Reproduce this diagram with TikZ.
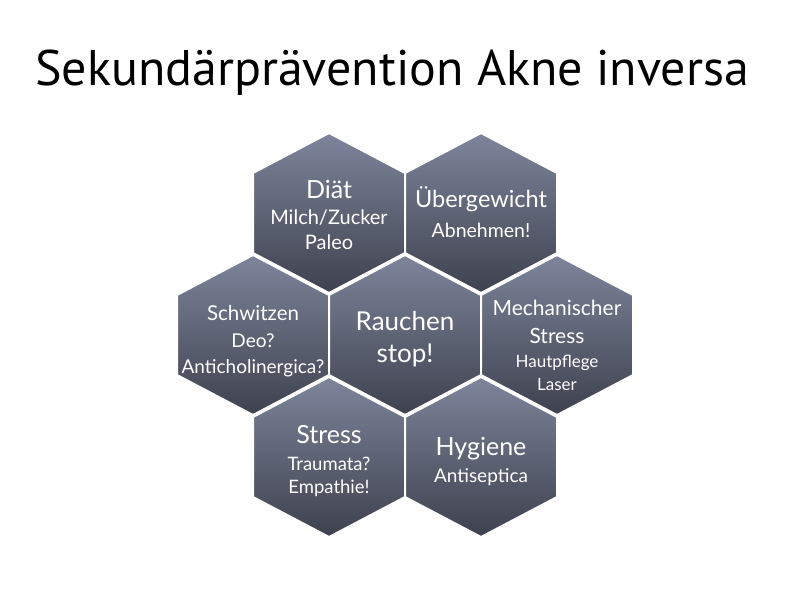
\documentclass[tikz,border=0pt]{standalone}
\usepackage{fontspec}
\setmainfont{Lato}
\newfontfamily\titlefont{PT Sans}
\newcommand\hexfont[1]{\fontsize{#1}{#1}\selectfont}
\definecolor{hextop}{HTML}{7E859B}
\definecolor{hexbot}{HTML}{3E414E}
\begin{document}
\begin{tikzpicture}[x=1pt, y=-1pt]
  \tikzset{
    hexcell/.style={draw=white, line width=2pt, top color=hextop, bottom color=hexbot},
    cellline/.style={text=white, anchor=base, inner sep=0pt}
  }
  \useasboundingbox (0,0) rectangle (792,600);

  \node[anchor=base west, inner sep=0pt, font=\titlefont\hexfont{50}] (title) at (35,85) {Sekundärprävention Akne inversa};

  % honeycomb: name/x/y of each cell centre
  \foreach \cell/\x/\y in {diaet/329/213, gewicht/481/213, schwitzen/253/335, rauchen/405/335,
                          mechanik/557/335, stress/329/457, hygiene/481/457} {
    \path[hexcell] (\x,\y-80) -- (\x+76,\y-40) -- (\x+76,\y+40) -- (\x,\y+80)
                   -- (\x-76,\y+40) -- (\x-76,\y-40) -- cycle;
    \coordinate (\cell) at (\x,\y);
  }

  \node[cellline, font=\hexfont{25}] (diaet-a) at (329,198) {Diät};
  \node[cellline, font=\hexfont{20}] (diaet-b) at (329,224) {Milch/Zucker};
  \node[cellline, font=\hexfont{20}] (diaet-c) at (329,249) {Paleo};

  \node[cellline, font=\hexfont{23.5}] (gewicht-a) at (481,207) {Übergewicht};
  \node[cellline, font=\hexfont{19.5}] (gewicht-b) at (481,237) {Abnehmen!};

  \node[cellline, font=\hexfont{20.5}] (schwitzen-a) at (253,320) {Schwitzen};
  \node[cellline, font=\hexfont{19}] (schwitzen-b) at (253,347) {Deo?};
  \node[cellline, font=\hexfont{19}] (schwitzen-c) at (253,373) {Anticholinergica?};

  \node[cellline, font=\hexfont{26}] (rauchen-a) at (405,330) {Rauchen};
  \node[cellline, font=\hexfont{26}] (rauchen-b) at (405,362) {stop!};

  \node[cellline, font=\hexfont{21}] (mechanik-a) at (557,315) {Mechanischer};
  \node[cellline, font=\hexfont{21}] (mechanik-b) at (557,343) {Stress};
  \node[cellline, font=\hexfont{17}] (mechanik-c) at (557,367) {Hautpflege};
  \node[cellline, font=\hexfont{17}] (mechanik-d) at (557,390) {Laser};

  \node[cellline, font=\hexfont{25}] (stress-a) at (329,443) {Stress};
  \node[cellline, font=\hexfont{18.5}] (stress-b) at (329,470) {Traumata?};
  \node[cellline, font=\hexfont{18.5}] (stress-c) at (329,493) {Empathie!};

  \node[cellline, font=\hexfont{25}] (hygiene-a) at (481,455) {Hygiene};
  \node[cellline, font=\hexfont{19}] (hygiene-b) at (481,482) {Antiseptica};
\end{tikzpicture}
\end{document}
